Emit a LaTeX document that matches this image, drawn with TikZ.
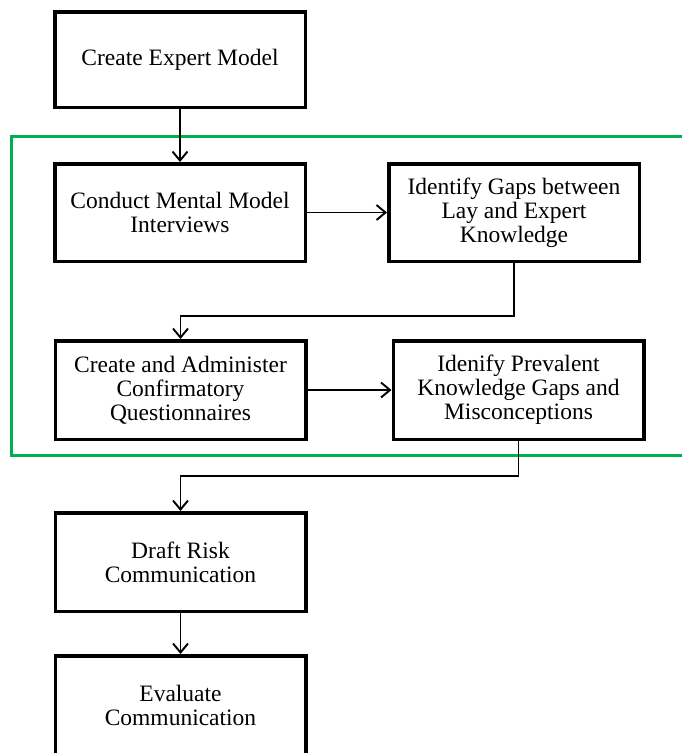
\documentclass[tikz,border=0pt]{standalone}
\usepackage{fontspec}
\setmainfont{Liberation Serif}
\usetikzlibrary{arrows.meta}
\definecolor{framegreen}{RGB}{0,176,80}
\tikzset{
  stepbox/.style={draw=black, line width=3.5pt, fill=white, align=center,
    minimum width=250.5pt, inner sep=0pt,
    font=\fontsize{23.5}{24}\selectfont},
  conn/.style={draw=black, line width=1.9pt, -{Straight Barb[length=9pt,width=15pt,line width=1.9pt]}},
}
\begin{document}
\begin{tikzpicture}[x=1pt,y=-1pt]
\useasboundingbox (0,0) rectangle (682,753);
\clip (0,0) rectangle (682,753);
% green frame
\draw[framegreen, line width=3pt] (690,136) -- (11,136) -- (11,455) -- (690,455);
% boxes
\node[stepbox, minimum height=95.5pt] (b1) at (180,59.5) {Create Expert Model};
\node[stepbox, minimum height=97.5pt] (b2) at (180,212.5) {Conduct Mental Model\\Interviews};
\node[stepbox, minimum height=97.5pt] (b3) at (514,212.5) {Identify Gaps between\\Lay and Expert\\Knowledge};
\node[stepbox, minimum height=98.5pt] (b4) at (180.5,390) {Create and Administer\\Confirmatory\\Questionnaires};
\node[stepbox, minimum height=98.5pt] (b5) at (518.5,390) {Idenify Prevalent\\Knowledge Gaps and\\Misconceptions};
\node[stepbox, minimum height=98.5pt] (b6) at (180.5,562) {Draft Risk\\Communication};
\node[stepbox, minimum height=98.5pt] (b7) at (180.5,705) {Evaluate\\Communication};
% connectors
\coordinate (k1) at (b3.south |- 0,316);
\coordinate (k2) at (b4.north |- 0,316);
\coordinate (k3) at (b5.south |- 0,476);
\coordinate (k4) at (b6.north |- 0,476);
\draw[conn] (b1.south) -- (b2.north);
\draw[conn] (b2.east) -- (b3.west);
\draw[conn] (b3.south) -- (k1) -- (k2) -- (b4.north);
\draw[conn] (b4.east) -- (b5.west);
\draw[conn] (b5.south) -- (k3) -- (k4) -- (b6.north);
\draw[conn] (b6.south) -- (b7.north);
\end{tikzpicture}
\end{document}
